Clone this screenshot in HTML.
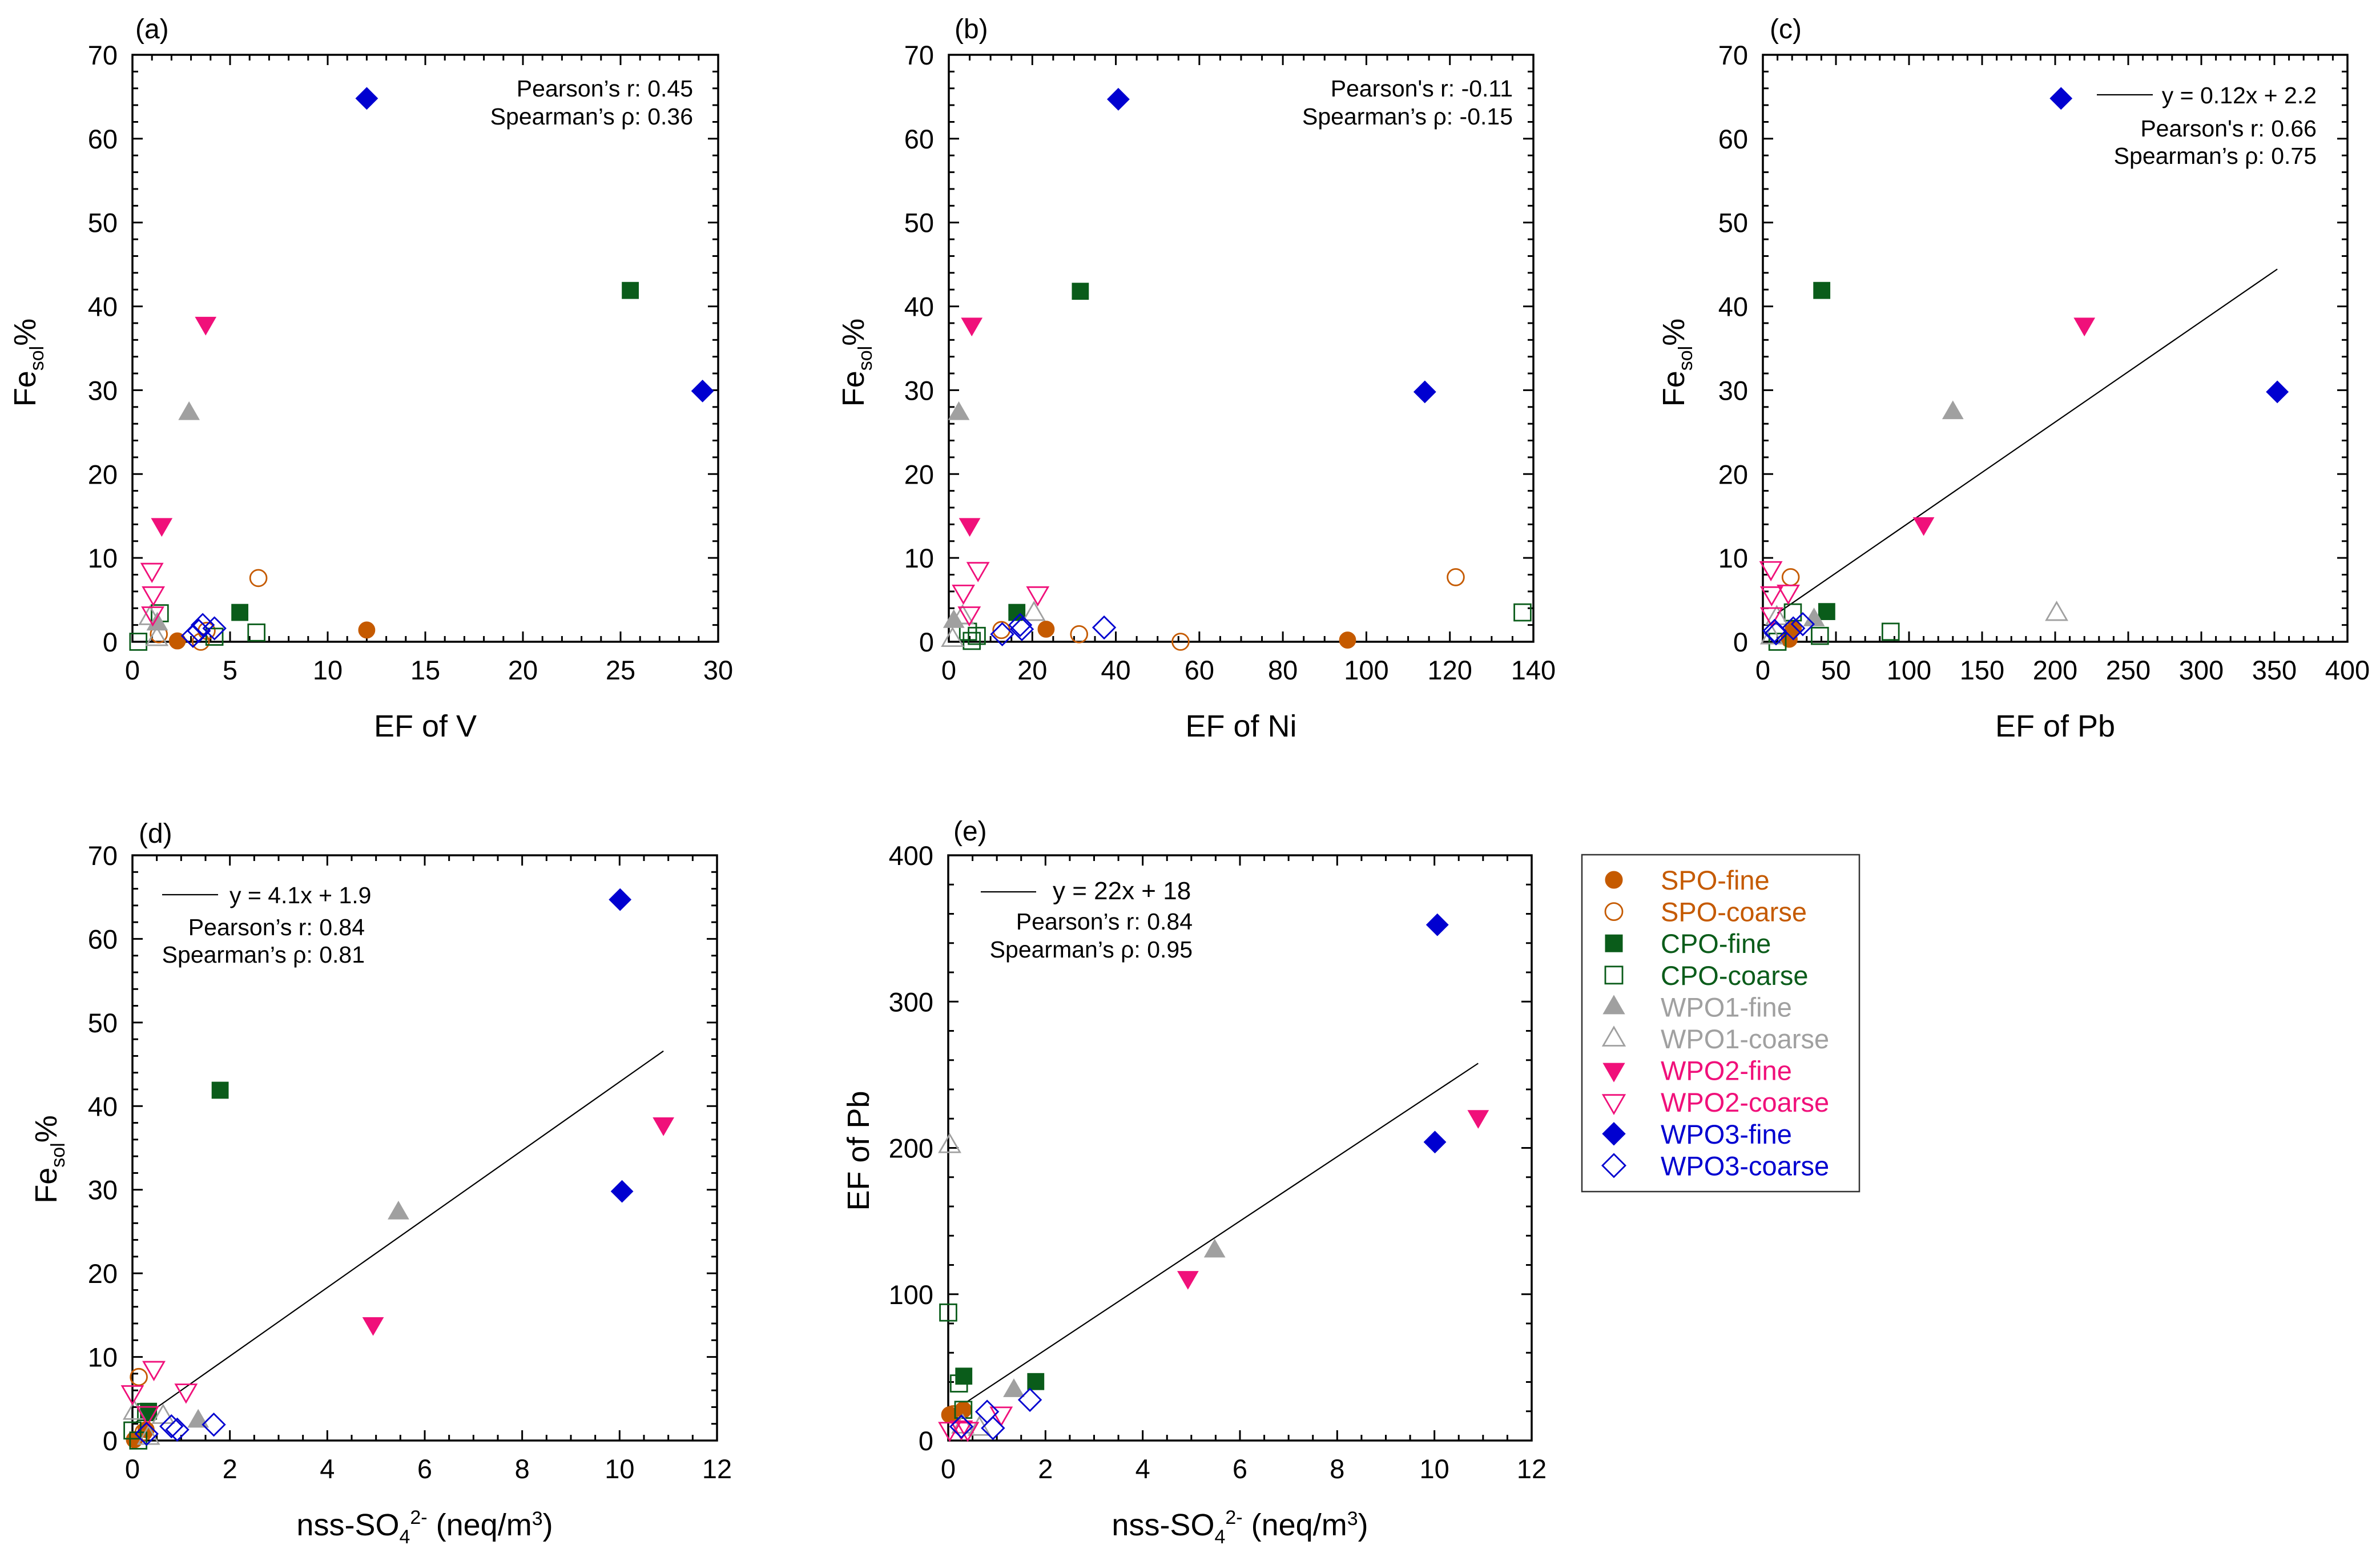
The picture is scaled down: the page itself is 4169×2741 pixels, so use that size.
<!DOCTYPE html>
<html><head><meta charset="utf-8"><style>
html,body{margin:0;padding:0;background:#fff;}
svg{display:block;font-family:"Liberation Sans",Arial,sans-serif;}
</style></head><body>
<svg id="fig" width="4169" height="2741" viewBox="0 0 4169 2741" xmlns="http://www.w3.org/2000/svg"></svg>
<script>
// ---- Panel (a): EF of V vs Fe_sol% ----
const a_spo_fine=[[2.3,0.1],[12,1.4]];
const a_spo_coarse=[[6.45,7.6],[1.35,0.9],[3.5,0],[3.8,1.3]];
const a_cpo_fine=[[25.5,41.9],[5.5,3.5]];
const a_cpo_coarse=[[0.3,0],[1.4,3.4],[4.2,0.6],[6.35,1.1]];
const a_wpo1_fine=[[2.9,27.3],[1.27,2.2]];
const a_wpo1_coarse=[[0.9,2.9],[1.25,0.4]];
const a_wpo2_fine=[[3.75,37.9],[1.5,13.9]];
const a_wpo2_coarse=[[1.0,8.5],[1.07,5.7],[1.04,3.3]];
const a_wpo3_fine=[[12,64.8],[29.2,29.9]];
const a_wpo3_coarse=[[3.1,0.7],[3.4,1.3],[3.6,2.0],[4.2,1.6]];
// ---- Panel (b): EF of Ni ----
const b_spo_fine=[[23.3,1.5],[95.5,0.2]];
const b_spo_coarse=[[121.4,7.7],[31.2,0.9],[55.5,0],[12.6,1.4]];
const b_cpo_fine=[[31.5,41.8],[16.3,3.5]];
const b_cpo_coarse=[[137.4,3.5],[4.6,1.2],[5.5,0.1],[6.7,0.7]];
const b_wpo1_fine=[[2.4,27.3],[1.2,2.5]];
const b_wpo1_coarse=[[20.4,3.4],[0.9,0.3],[3.3,3]];
const b_wpo2_fine=[[5.5,37.8],[5.0,13.9]];
const b_wpo2_coarse=[[7.0,8.6],[3.5,5.9],[21.3,5.7],[4.9,3.3]];
const b_wpo3_fine=[[40.6,64.7],[114,29.8]];
const b_wpo3_coarse=[[12.8,0.9],[17.1,2.0],[17.5,1.5],[37.2,1.7]];
// ---- Panel (c): EF of Pb ----
const c_spo_fine=[[20.8,1.6],[18,0.3]];
const c_spo_coarse=[[19,7.7]];
const c_cpo_fine=[[40.3,41.9],[43.7,3.6]];
const c_cpo_coarse=[[87.4,1.2],[39,0.7],[20.5,3.5],[10,0]];
const c_wpo1_fine=[[130,27.4],[35,2.7]];
const c_wpo1_coarse=[[201,3.4],[6,0.6],[9.5,2.9]];
const c_wpo2_fine=[[220,37.8],[110,14]];
const c_wpo2_coarse=[[5.5,8.7],[6,5.7],[17.4,5.9],[6,3.2]];
const c_wpo3_fine=[[204,64.8],[352,29.8]];
const c_wpo3_coarse=[[8,1.3],[9,1.0],[20.8,1.6],[27.3,2.1]];
const c_fit=[0.12,2.2]; const c_fitRange=[10,352];
// ---- Panel (d): nss-SO4 vs Fe_sol% ----
const d_spo_fine=[[0.28,1.3],[0.04,0.1]];
const d_spo_coarse=[[0.13,7.6],[0.23,1.0]];
const d_cpo_fine=[[1.8,41.9],[0.33,3.5]];
const d_cpo_coarse=[[0,1.2],[0.12,0],[0.28,3.4]];
const d_wpo1_fine=[[5.46,27.3],[1.35,2.4]];
const d_wpo1_coarse=[[0.04,3.4],[0.63,2.9],[0.33,0.4]];
const d_wpo2_fine=[[10.9,37.8],[4.94,13.9]];
const d_wpo2_coarse=[[0.44,8.6],[0,5.7],[1.1,5.9],[0.31,3.2]];
const d_wpo3_fine=[[10.01,64.7],[10.05,29.8]];
const d_wpo3_coarse=[[0.8,1.7],[0.92,1.3],[1.67,1.9],[0.29,0.8]];
const d_fit=[4.1,1.9]; const d_fitRange=[0,10.9];
// ---- Panel (e): nss-SO4 vs EF of Pb ----
const e_spo_fine=[[0.03,17.6],[0.31,21]];
const e_spo_coarse=[[0.1,18]];
const e_cpo_fine=[[0.32,44],[1.8,40.3]];
const e_cpo_coarse=[[0,87.5],[0.22,39],[0.31,21]];
const e_wpo1_fine=[[5.48,130],[1.35,34.6]];
const e_wpo1_coarse=[[0.03,201.7],[0.64,8.5],[0.3,10]];
const e_wpo2_fine=[[10.9,221],[4.93,111]];
const e_wpo2_coarse=[[0.03,7.5],[0.4,7.5],[1.09,18],[0.27,8.5]];
const e_wpo3_fine=[[10.06,352.5],[10.01,204]];
const e_wpo3_coarse=[[0.8,19.7],[1.68,27.8],[0.92,8.5],[0.27,9.5]];
const e_fit=[22,18]; const e_fitRange=[0,10.9];

const legendLabels=["SPO-fine","SPO-coarse","CPO-fine","CPO-coarse","WPO1-fine","WPO1-coarse","WPO2-fine","WPO2-coarse","WPO3-fine","WPO3-coarse"];

const NS="http://www.w3.org/2000/svg";
const svg=document.getElementById('fig');
function mk(tag,attrs,parent){const e=document.createElementNS(NS,tag);for(const k in attrs)e.setAttribute(k,attrs[k]);(parent||svg).appendChild(e);return e;}

const COL={spo:"#c55a00",cpo:"#0a5c1a",wpo1:"#a0a0a0",wpo2:"#f0107a",wpo3:"#0000d0"};
const SHAPE={spo:"circle",cpo:"square",wpo1:"up",wpo2:"down",wpo3:"diamond"};

function marker(g,shape,cx,cy,color,filled,k){
  k=k||1.2;
  const fill=filled?color:"none";const sw=filled?1:2.8;
  if(shape==="circle") return mk('circle',{cx:cx,cy:cy,r:12*k,fill:fill,stroke:color,'stroke-width':sw},g);
  if(shape==="square") return mk('rect',{x:cx-12*k,y:cy-12*k,width:24*k,height:24*k,fill:fill,stroke:color,'stroke-width':sw},g);
  if(shape==="up") return mk('polygon',{points:`${cx-15*k},${cy+10*k} ${cx+15*k},${cy+10*k} ${cx},${cy-16*k}`,fill:fill,stroke:color,'stroke-width':sw},g);
  if(shape==="down") return mk('polygon',{points:`${cx-15*k},${cy-10*k} ${cx+15*k},${cy-10*k} ${cx},${cy+16*k}`,fill:fill,stroke:color,'stroke-width':sw},g);
  return mk('polygon',{points:`${cx},${cy-16*k} ${cx+16*k},${cy} ${cx},${cy+16*k} ${cx-16*k},${cy}`,fill:fill,stroke:color,'stroke-width':sw},g);
}

function panel(p){
  const g=mk('g',{});
  
  
  const sx=v=>p.L+(v-p.xmin)/(p.xmax-p.xmin)*(p.R-p.L);
  const sy=v=>p.B-(v-p.ymin)/(p.ymax-p.ymin)*(p.B-p.T);
  const tg=mk('g',{stroke:'#000','stroke-width':3},g);
  
  
  for(let v=p.xmin;v<=p.xmax+1e-9;v+=p.xminor){
    const maj=Math.abs(v/p.xmajor-Math.round(v/p.xmajor))<1e-6;const len=maj?18:10;const x=sx(v);
    mk('line',{x1:x,x2:x,y1:p.B,y2:p.B-len},tg);mk('line',{x1:x,x2:x,y1:p.T,y2:p.T+len},tg);
  }
  for(let v=p.ymin;v<=p.ymax+1e-9;v+=p.yminor){
    const maj=Math.abs(v/p.ymajor-Math.round(v/p.ymajor))<1e-6;const len=maj?18:10;const y=sy(v);
    mk('line',{x1:p.L,x2:p.L+len,y1:y,y2:y},tg);mk('line',{x1:p.R,x2:p.R-len,y1:y,y2:y},tg);
  }
  const box=mk('rect',{x:p.L,y:p.T,width:p.R-p.L,height:p.B-p.T,fill:'none',stroke:'#000','stroke-width':3.5},g);
  
  
  for(let v=p.xmin;v<=p.xmax+1e-9;v+=p.xmajor){
    const t=mk('text',{x:sx(v),y:p.B+66,'font-size':47,'text-anchor':'middle'},g);t.textContent=String(Math.round(v*100)/100);
    
    
  }
  for(let v=p.ymin;v<=p.ymax+1e-9;v+=p.ymajor){
    const t=mk('text',{x:p.L-26,y:sy(v)+17,'font-size':47,'text-anchor':'end'},g);t.textContent=String(Math.round(v*100)/100);
    
    
  }
  const xt=mk('text',{x:(p.L+p.R)/2,y:p.B+166,'font-size':54,'text-anchor':'middle'},g);
  xt.innerHTML=p.xtitle;
  
  
  const yx=p.L-p.ytOff+19, yc=(p.T+p.B)/2+p.ytShift;
  const yt=mk('text',{x:yx,y:yc,'font-size':54,'text-anchor':'middle',transform:`rotate(-90 ${yx} ${yc})`},g);
  yt.innerHTML=p.ytitle;
  
  
  const pl=mk('text',{x:p.labX,y:p.labY,'font-size':48},g);pl.textContent='('+p.id+')';
  
  
  if(p.fit){
    const fl=mk('line',{x1:sx(p.fitRange[0]),y1:sy(p.fit[0]*p.fitRange[0]+p.fit[1]),x2:sx(p.fitRange[1]),y2:sy(p.fit[0]*p.fitRange[1]+p.fit[1]),stroke:'#000','stroke-width':2.2},g);
    
    
  }
  p.ann.forEach(a=>{
    if(a.line){const l=mk('line',{x1:a.line[0],x2:a.line[1],y1:a.line[2],y2:a.line[2],stroke:'#000','stroke-width':2.2},g);
      
      }
    const t=mk('text',{x:a.x,y:a.y,'font-size':a.fs||41,'text-anchor':a.anchor||'end'},g);t.textContent=a.t;
    
    
  });
  const order=["spo","cpo","wpo1","wpo2","wpo3"];
  order.forEach(s=>{
    [["coarse",false],["fine",true]].forEach(([sz,filled])=>{
      const arr=p.series[s+"_"+sz]||[];
      const sg=mk('g',{},g);
      
      
      arr.forEach(d=>{
        const m=marker(sg,SHAPE[s],sx(d[0]),sy(d[1]),COL[s],filled);
        
        
      });
    });
  });
}

const FE='Fe<tspan font-size="34" dy="14">sol</tspan><tspan dy="-14">%</tspan>';
const SO4='nss-SO<tspan font-size="34" dy="14">4</tspan><tspan font-size="34" dy="-34">2-</tspan><tspan dy="20"> (neq/m</tspan><tspan font-size="34" dy="-18">3</tspan><tspan dy="18">)</tspan>';

panel({id:'a',L:232,R:1258,T:96,B:1124,xmin:0,xmax:30,xmajor:5,xminor:1,ymin:0,ymax:70,ymajor:10,yminor:2,
  xtitle:'EF of V',ytitle:FE,ytOff:189,ytShift:25,labX:237,labY:67,
  series:{spo_fine:a_spo_fine,spo_coarse:a_spo_coarse,cpo_fine:a_cpo_fine,cpo_coarse:a_cpo_coarse,wpo1_fine:a_wpo1_fine,wpo1_coarse:a_wpo1_coarse,wpo2_fine:a_wpo2_fine,wpo2_coarse:a_wpo2_coarse,wpo3_fine:a_wpo3_fine,wpo3_coarse:a_wpo3_coarse},
  ann:[{t:"Pearson’s r: 0.45",x:1214,y:169},{t:"Spearman’s ρ: 0.36",x:1214,y:218}]});
panel({id:'b',L:1662,R:2686,T:96,B:1124,xmin:0,xmax:140,xmajor:20,xminor:5,ymin:0,ymax:70,ymajor:10,yminor:2,
  xtitle:'EF of Ni',ytitle:FE,ytOff:168,ytShift:25,labX:1672,labY:67,
  series:{spo_fine:b_spo_fine,spo_coarse:b_spo_coarse,cpo_fine:b_cpo_fine,cpo_coarse:b_cpo_coarse,wpo1_fine:b_wpo1_fine,wpo1_coarse:b_wpo1_coarse,wpo2_fine:b_wpo2_fine,wpo2_coarse:b_wpo2_coarse,wpo3_fine:b_wpo3_fine,wpo3_coarse:b_wpo3_coarse},
  ann:[{t:"Pearson's r: -0.11",x:2650,y:169},{t:"Spearman’s ρ: -0.15",x:2650,y:218}]});
panel({id:'c',L:3088,R:4112,T:96,B:1124,xmin:0,xmax:400,xmajor:50,xminor:10,ymin:0,ymax:70,ymajor:10,yminor:2,
  xtitle:'EF of Pb',ytitle:FE,ytOff:157,ytShift:25,labX:3100,labY:67,fit:c_fit,fitRange:c_fitRange,
  series:{spo_fine:c_spo_fine,spo_coarse:c_spo_coarse,cpo_fine:c_cpo_fine,cpo_coarse:c_cpo_coarse,wpo1_fine:c_wpo1_fine,wpo1_coarse:c_wpo1_coarse,wpo2_fine:c_wpo2_fine,wpo2_coarse:c_wpo2_coarse,wpo3_fine:c_wpo3_fine,wpo3_coarse:c_wpo3_coarse},
  ann:[{t:"y =  0.12x + 2.2",x:4058,y:181,line:[3673,3771,166]},{t:"Pearson's r: 0.66",x:4058,y:239},{t:"Spearman’s ρ: 0.75",x:4058,y:287}]});
panel({id:'d',L:232,R:1256,T:1498,B:2523,xmin:0,xmax:12,xmajor:2,xminor:0.5,ymin:0,ymax:70,ymajor:10,yminor:2,
  xtitle:SO4,ytitle:FE,ytOff:152,ytShift:20,labX:243,labY:1476,fit:d_fit,fitRange:d_fitRange,
  series:{spo_fine:d_spo_fine,spo_coarse:d_spo_coarse,cpo_fine:d_cpo_fine,cpo_coarse:d_cpo_coarse,wpo1_fine:d_wpo1_fine,wpo1_coarse:d_wpo1_coarse,wpo2_fine:d_wpo2_fine,wpo2_coarse:d_wpo2_coarse,wpo3_fine:d_wpo3_fine,wpo3_coarse:d_wpo3_coarse},
  ann:[{t:"y = 4.1x + 1.9",x:402,y:1582,anchor:'start',line:[284,382,1567]},{t:"Pearson’s r: 0.84",x:639,y:1638},{t:"Spearman’s ρ: 0.81",x:639,y:1686}]});
panel({id:'e',L:1661,R:2683,T:1498,B:2523,xmin:0,xmax:12,xmajor:2,xminor:0.5,ymin:0,ymax:400,ymajor:100,yminor:20,
  xtitle:SO4,ytitle:'EF of Pb',ytOff:158,ytShift:5,labX:1670,labY:1472,fit:e_fit,fitRange:e_fitRange,
  series:{spo_fine:e_spo_fine,spo_coarse:e_spo_coarse,cpo_fine:e_cpo_fine,cpo_coarse:e_cpo_coarse,wpo1_fine:e_wpo1_fine,wpo1_coarse:e_wpo1_coarse,wpo2_fine:e_wpo2_fine,wpo2_coarse:e_wpo2_coarse,wpo3_fine:e_wpo3_fine,wpo3_coarse:e_wpo3_coarse},
  ann:[{t:"y = 22x + 18",x:1844,y:1575,anchor:'start',fs:44,line:[1718,1815,1562]},{t:"Pearson’s r: 0.84",x:2089,y:1628},{t:"Spearman’s ρ: 0.95",x:2089,y:1677}]});

// legend
const lg=mk('g',{});


mk('rect',{x:2771,y:1497,width:486,height:590,fill:'none',stroke:'#333','stroke-width':2.5},lg);
const keys=["spo","spo","cpo","cpo","wpo1","wpo1","wpo2","wpo2","wpo3","wpo3"];
legendLabels.forEach((lab,i)=>{
  const y=1541+i*55.6;const s=keys[i];const filled=i%2===0;
  const eg=mk('g',{},lg);
  
  
  marker(eg,SHAPE[s],2827,y,COL[s],filled,1.25);
  const t=mk('text',{x:2909,y:y+17,'font-size':47,fill:COL[s]},eg);t.textContent=lab;
});
</script>
</body></html>
